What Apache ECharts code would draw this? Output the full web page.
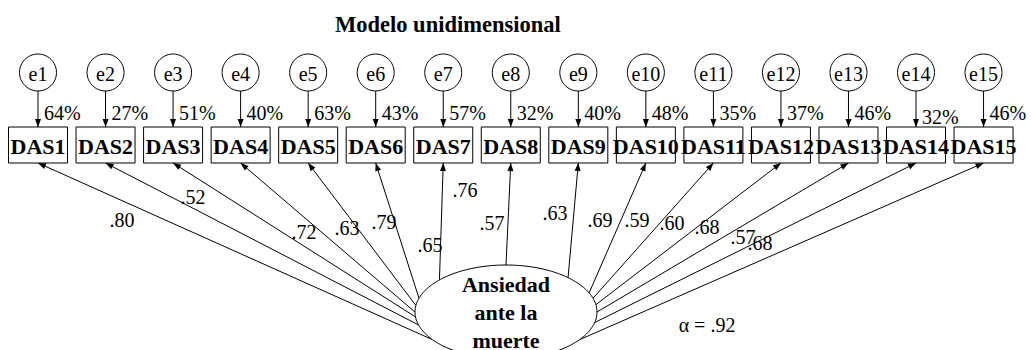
<!DOCTYPE html>
<html>
<head>
<meta charset="utf-8">
<title>Modelo unidimensional</title>
<script src="https://cdn.jsdelivr.net/npm/echarts@6/dist/echarts.min.js"></script>
<style>
  html, body { margin: 0; padding: 0; background: #ffffff; }
  #chart { width: 1032px; height: 350px; }
</style>
</head>
<body>
<div id="chart"></div>
<script>
// ---- Model content ----
const chartTitle = 'Modelo unidimensional';
const indicators = ['DAS1', 'DAS2', 'DAS3', 'DAS4', 'DAS5', 'DAS6', 'DAS7', 'DAS8',
                    'DAS9', 'DAS10', 'DAS11', 'DAS12', 'DAS13', 'DAS14', 'DAS15'];
const errorTerms = ['e1', 'e2', 'e3', 'e4', 'e5', 'e6', 'e7', 'e8',
                    'e9', 'e10', 'e11', 'e12', 'e13', 'e14', 'e15'];
// explained variance (R², %) of each item
const rSquared = [64, 27, 51, 40, 63, 43, 57, 32, 40, 48, 35, 37, 46, 32, 46];
// standardized factor loadings
const loadings = [0.80, 0.52, 0.72, 0.63, 0.79, 0.65, 0.76, 0.57,
                  0.63, 0.69, 0.59, 0.60, 0.68, 0.57, 0.68];
const latentName = ['Ansiedad', 'ante la', 'muerte'];
const cronbachAlpha = 0.92;

// ---- Diagram layout (in diagram units, 1 unit = 1 px) ----
const FONT = 'Liberation Serif, Times New Roman, serif';
const COL_X0 = 38, COL_STEP = 67.54;
const ERR_Y = 72.5, ERR_R = 18.5;
const BOX_TOP = 127, BOX_BOTTOM = 163, BOX_W = 59;
const LATENT = { x: 506, y: 312, rx: 91, ry: 47 };
// where each loading path meets the latent ellipse (parametric angle, degrees)
const anchorAngles = [144, 164, 174, 180, 188, 197, 223, 270, 313, 336, 343, 351, 360, 13, 36];
// centres of the loading labels
const loadingLabelPos = [[122, 220], [193, 197], [304, 232], [347, 228], [384, 222],
                         [430, 245], [465, 190], [492, 223], [555, 213], [600, 220],
                         [637, 220], [672, 223], [707, 227], [743, 237], [760, 243]];
const pctLabelDy = [0, 0, 0, 0, 0, 0, 0, 0, 0, 0, 0, 0, 0, 4, 0];
const ALPHA_POS = [707, 325];

const colX = i => COL_X0 + COL_STEP * i;
const anchorPoint = i => {
  const a = anchorAngles[i] * Math.PI / 180;
  return [LATENT.x + LATENT.rx * Math.cos(a), LATENT.y + LATENT.ry * Math.sin(a)];
};
const fmtLoading = v => v.toFixed(2).replace(/^0/, '');

function arrowHead(tip, from, len, half) {
  const dx = tip[0] - from[0], dy = tip[1] - from[1];
  const d = Math.hypot(dx, dy) || 1;
  const ux = dx / d, uy = dy / d;
  const bx = tip[0] - ux * len, by = tip[1] - uy * len;
  return [tip, [bx - uy * half, by + ux * half], [bx + uy * half, by - ux * half]];
}

const idx = indicators.map((_, i) => [i]);

const chart = echarts.init(document.getElementById('chart'), null, { renderer: 'svg' });

chart.setOption({
  backgroundColor: '#ffffff',
  animation: false,
  title: {
    text: chartTitle,
    left: 335,
    top: 13,
    padding: 0,
    textStyle: { fontFamily: FONT, fontSize: 22.5, fontWeight: 'bold', color: '#000' }
  },
  grid: { left: 0, right: 0, top: 0, bottom: 0 },
  xAxis: { type: 'value', min: 0, max: 1032, show: false },
  yAxis: { type: 'value', min: 0, max: 350, inverse: true, show: false },
  graphic: [{
    type: 'text',
    x: ALPHA_POS[0], y: ALPHA_POS[1],
    style: {
      text: 'α = ' + fmtLoading(cronbachAlpha),
      fontFamily: FONT, fontSize: 20, fill: '#000',
      align: 'center', verticalAlign: 'middle'
    }
  }],
  series: [
    {
      // loading paths from the latent factor to each item
      type: 'custom',
      name: 'loadings',
      data: idx,
      encode: { x: 0 },
      renderItem: (params, api) => {
        const i = params.dataIndex;
        const a = anchorPoint(i);
        const p0 = api.coord(a);
        const p1 = api.coord([colX(i), BOX_BOTTOM]);
        const lp = api.coord(loadingLabelPos[i]);
        return {
          type: 'group',
          children: [
            { type: 'line', shape: { x1: p0[0], y1: p0[1], x2: p1[0], y2: p1[1] },
              style: { stroke: '#000', lineWidth: 1 } },
            { type: 'polygon', shape: { points: arrowHead(p1, p0, 8, 3) },
              style: { fill: '#000' } },
            { type: 'text', x: lp[0], y: lp[1],
              style: { text: fmtLoading(loadings[i]), fontFamily: FONT, fontSize: 20,
                       fill: '#000', align: 'center', verticalAlign: 'middle' } }
          ]
        };
      },
      z: 1
    },
    {
      // error terms pointing to their items, with R² labels
      type: 'custom',
      name: 'errors',
      data: idx,
      encode: { x: 0 },
      renderItem: (params, api) => {
        const i = params.dataIndex;
        const c = api.coord([colX(i), ERR_Y]);
        const top = api.coord([colX(i), ERR_Y + ERR_R]);
        const tip = api.coord([colX(i), BOX_TOP]);
        const lbl = api.coord([colX(i) + 6, 113 + pctLabelDy[i]]);
        return {
          type: 'group',
          children: [
            { type: 'line', shape: { x1: top[0], y1: top[1], x2: tip[0], y2: tip[1] },
              style: { stroke: '#000', lineWidth: 1 } },
            { type: 'polygon', shape: { points: arrowHead(tip, top, 8, 3) },
              style: { fill: '#000' } },
            { type: 'circle', shape: { cx: c[0], cy: c[1], r: ERR_R },
              style: { fill: '#fff', stroke: '#000', lineWidth: 1 } },
            { type: 'text', x: c[0], y: c[1] + 1,
              style: { text: errorTerms[i], fontFamily: FONT, fontSize: 20, fill: '#000',
                       align: 'center', verticalAlign: 'middle' } },
            { type: 'text', x: lbl[0], y: lbl[1],
              style: { text: rSquared[i] + '%', fontFamily: FONT, fontSize: 20, fill: '#000',
                       align: 'left', verticalAlign: 'middle' } }
          ]
        };
      },
      z: 2
    },
    {
      // observed items
      type: 'custom',
      name: 'items',
      data: idx,
      encode: { x: 0 },
      renderItem: (params, api) => {
        const i = params.dataIndex;
        const tl = api.coord([colX(i) - BOX_W / 2, BOX_TOP]);
        const br = api.coord([colX(i) + BOX_W / 2, BOX_BOTTOM]);
        const c = api.coord([colX(i), (BOX_TOP + BOX_BOTTOM) / 2]);
        return {
          type: 'group',
          children: [
            { type: 'rect', shape: { x: tl[0], y: tl[1], width: br[0] - tl[0], height: br[1] - tl[1] },
              style: { fill: '#fff', stroke: '#000', lineWidth: 1 } },
            { type: 'text', x: c[0], y: c[1] + 1, z2: 10,
              style: { text: indicators[i], fontFamily: FONT, fontSize: 22, fontWeight: 'bold',
                       fill: '#000', align: 'center', verticalAlign: 'middle' } }
          ]
        };
      },
      z: 3
    },
    {
      // latent factor
      type: 'custom',
      name: 'latent',
      data: [[0]],
      encode: { x: 0 },
      renderItem: (params, api) => {
        const pts = [];
        for (let k = 0; k < 180; k++) {
          const t = k / 180 * Math.PI * 2;
          pts.push(api.coord([LATENT.x + LATENT.rx * Math.cos(t), LATENT.y + LATENT.ry * Math.sin(t)]));
        }
        const children = [
          { type: 'polygon', shape: { points: pts },
            style: { fill: '#fff', stroke: '#000', lineWidth: 1 } }
        ];
        latentName.forEach((line, k) => {
          const p = api.coord([LATENT.x, 284 + k * 28]);
          children.push({ type: 'text', x: p[0], y: p[1], z2: 10,
            style: { text: line, fontFamily: FONT, fontSize: 22, fontWeight: 'bold', fill: '#000',
                     align: 'center', verticalAlign: 'middle' } });
        });
        return { type: 'group', children };
      },
      z: 4
    }
  ]
});
</script>
</body>
</html>
